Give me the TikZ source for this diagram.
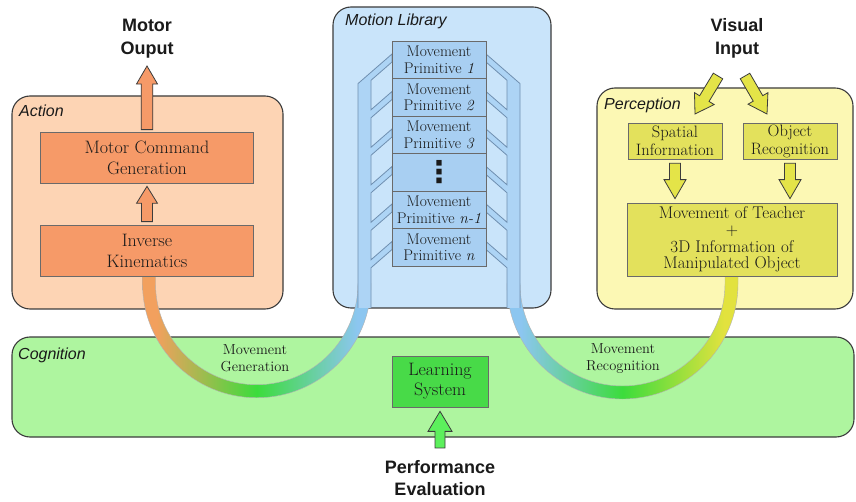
\documentclass[tikz,border=0pt]{standalone}
\usepackage{fontspec}
\newfontfamily\lsans{Liberation Sans}
\newfontfamily\symfont{DejaVu Sans}
\usetikzlibrary{calc}

% palette
\definecolor{frame}{HTML}{3C3C3C}
\definecolor{boxline}{HTML}{6A6A6A}
\definecolor{actbg}{HTML}{FDD4B4}
\definecolor{actfill}{HTML}{F69A68}
\definecolor{mlbg}{HTML}{C9E4FA}
\definecolor{primfill}{HTML}{A8CFF2}
\definecolor{bandfill}{HTML}{ADD4F5}
\definecolor{bandline}{HTML}{6F8FB0}
\definecolor{perbg}{HTML}{FCF8B4}
\definecolor{perfill}{HTML}{E3E15C}
\definecolor{perarrow}{HTML}{E4E448}
\definecolor{cogbg}{HTML}{AEF59F}
\definecolor{lsfill}{HTML}{48DA48}
\definecolor{cogarrow}{HTML}{5CF05C}
\definecolor{tubeorange}{HTML}{F2A05E}
\definecolor{tubegreen}{HTML}{3CDC3C}
\definecolor{tubeblue}{HTML}{8CC6F0}
\definecolor{tubeyellow}{HTML}{E2E23E}
\definecolor{labeltext}{HTML}{1A1A1A}

% colour runs along the two U-shaped channels
\pgfdeclarehorizontalshading{gentube}{100bp}{color(0bp)=(tubeorange); color(28bp)=(tubeorange); color(50bp)=(tubegreen); color(72bp)=(tubeblue); color(100bp)=(tubeblue)}
\pgfdeclarehorizontalshading{rectube}{100bp}{color(0bp)=(tubeblue); color(28bp)=(tubeblue); color(50bp)=(tubegreen); color(72bp)=(tubeyellow); color(100bp)=(tubeyellow)}

% wide outlined arrow: style, tail, tip, shaft half width, head half width, head length
\newcommand{\blockarrow}[6]{%
  \coordinate (ba-neck) at ($(#3)!#6!(#2)$);
  \draw[#1] ($(#2)!#4!90:(#3)$) -- ($(ba-neck)!#4!90:(#3)$) -- ($(ba-neck)!#5!90:(#3)$)
    -- (#3) -- ($(ba-neck)!#5!-90:(#3)$) -- ($(ba-neck)!#4!-90:(#3)$) -- ($(#2)!#4!-90:(#3)$) -- cycle;}

\begin{document}
\begin{tikzpicture}[x=1pt,y=-1pt,
  container/.style={draw=frame, line width=1.1pt, rounded corners=18pt},
  inbox/.style={draw=boxline, line width=0.7pt, inner sep=0pt, align=center, text=labeltext},
  actbox/.style={inbox, fill=actfill, minimum width=213pt, minimum height=51pt, font=\fontsize{18}{21}\selectfont},
  primbox/.style={inbox, fill=primfill, minimum width=94pt, minimum height=37.5pt, font=\fontsize{15.5}{16.5}\selectfont},
  perbox/.style={inbox, fill=perfill, minimum width=94pt, minimum height=36pt, font=\fontsize{16.5}{18}\selectfont},
  grouplabel/.style={anchor=west, inner sep=0pt, text=labeltext, font=\lsans\itshape\fontsize{16}{18}\selectfont},
  iolabel/.style={align=center, inner sep=0pt, text=labeltext, font=\lsans\bfseries\fontsize{18}{22.5}\selectfont},
  tubelabel/.style={align=center, inner sep=0pt, text=labeltext, font=\fontsize{14.5}{17}\selectfont},
  fatarrow/.style={draw=frame, line width=0.8pt, line join=miter},
  bandedge/.style={draw=bandline, line width=0.8pt, line join=miter},
]
\useasboundingbox[fill=white] (0,0) rectangle (856,502);

% ---- the four areas ----
\draw[container, fill=actbg] (12,96) rectangle (283,309);
\draw[container, fill=mlbg] (333,7) rectangle (551,308);
\draw[container, fill=perbg] (597,88) rectangle (853,309);
\draw[container, fill=cogbg] (12,337) rectangle (854,437);

% ---- channels between the areas ----
\shadedraw[shading=gentube, draw=black!30, line width=0.4pt]
  (142.5,276) -- (142.5,283.5) arc[start angle=180, end angle=0, radius=114.25]
  -- (358,283.5) arc[start angle=0, end angle=180, radius=101.25] -- (155.5,276) -- cycle;
\shadedraw[shading=rectube, draw=black!30, line width=0.4pt]
  (507,283.5) arc[start angle=180, end angle=0, radius=115.5] -- (738,276) -- (725,276)
  -- (725,283.5) arc[start angle=0, end angle=180, radius=102.5] -- cycle;

% ---- branching bands of the motion library ----
\fill[bandfill] (371,308) -- (371,267.8) -- (392,249.5)
  \foreach \i in {5,4,3,2,1}{ -- (392,{54+37.5*\i}) -- (371,{72.3+37.5*\i}) -- (371,{80.3+37.5*(\i-1)}) -- (392,{62+37.5*(\i-1)}) }
  -- (392,54) -- (358,83.6) -- (358,308) -- cycle;
\draw[bandedge] (371,308) -- (371,267.8) -- (392,249.5)
  \foreach \i in {5,4,3,2,1}{ -- (392,{54+37.5*\i}) -- (371,{72.3+37.5*\i}) -- (371,{80.3+37.5*(\i-1)}) -- (392,{62+37.5*(\i-1)}) }
  -- (392,54) -- (358,83.6) -- (358,308);
\fill[bandfill] (507,308) -- (507,267.8) -- (486,249.5)
  \foreach \i in {5,4,3,2,1}{ -- (486,{54+37.5*\i}) -- (507,{72.3+37.5*\i}) -- (507,{80.3+37.5*(\i-1)}) -- (486,{62+37.5*(\i-1)}) }
  -- (486,54) -- (520,83.6) -- (520,308) -- cycle;
\draw[bandedge] (507,308) -- (507,267.8) -- (486,249.5)
  \foreach \i in {5,4,3,2,1}{ -- (486,{54+37.5*\i}) -- (507,{72.3+37.5*\i}) -- (507,{80.3+37.5*(\i-1)}) -- (486,{62+37.5*(\i-1)}) }
  -- (486,54) -- (520,83.6) -- (520,308);

% ---- action ----
\node[actbox] (mcg) at (147,157.5) {Motor Command\\Generation};
\node[actbox] (ik) at (147,250.5) {Inverse\\Kinematics};

% ---- motion library ----
\node[primbox] (mp1) at (439,59.75) {Movement\\Primitive \textit{1}};
\node[primbox] (mp2) at (439,97.25) {Movement\\Primitive \textit{2}};
\node[primbox] (mp3) at (439,134.75) {Movement\\Primitive \textit{3}};
\node[primbox] (mpdots) at (439,172.25) {};
\node[inner sep=0pt, text=labeltext, font=\symfont\bfseries\fontsize{30}{30}\selectfont] (dotsglyph) at (mpdots.center) {⋮};
\node[primbox] (mpn1) at (439,209.75) {Movement\\Primitive \textit{n-1}};
\node[primbox] (mpn) at (439,247.25) {Movement\\Primitive \textit{n}};

% ---- perception ----
\node[perbox] (spatial) at (675,141) {Spatial\\Information};
\node[perbox] (object) at (790,141) {Object\\Recognition};
\node[perbox, minimum width=210pt, minimum height=73pt, font=\fontsize{17}{16.6}\selectfont]
  (teacher) at (732,239.5) {Movement of Teacher\\+\\3D Information of\\Manipulated Object};

% ---- cognition ----
\node[inbox, fill=lsfill, minimum width=96pt, minimum height=51pt, font=\fontsize{18}{20}\selectfont]
  (learn) at (440,381.5) {Learning\\System};

% ---- area names ----
\node[grouplabel] (actname) at (19,111) {Action};
\node[grouplabel] (mlname) at (345,21) {Motion Library};
\node[grouplabel] (pername) at (604,105) {Perception};
\node[grouplabel] (cogname) at (18,355) {Cognition};

% ---- inputs and outputs ----
\node[iolabel] (motorout) at (147,38.5) {Motor\\Ouput};
\node[iolabel] (visin) at (737,38.5) {Visual\\Input};
\node[iolabel] (perf) at (440,478) {Performance\\Evaluation};

\node[tubelabel] (genlbl) at (255,358.5) {Movement\\Generation};
\node[tubelabel] (reclbl) at (623,358.5) {Movement\\Recognition};

% ---- arrows ----
\coordinate (ik-up) at ($(ik.north)+(0,-3)$);
\coordinate (mcg-in) at ($(mcg.south)+(0,3)$);
\blockarrow{fatarrow, fill=actfill}{ik-up}{mcg-in}{5.5pt}{10.5pt}{17pt}
\coordinate (mcg-up) at ($(mcg.north)+(0,-2)$);
\coordinate (motor-tip) at ($(motorout.south)+(0,8)$);
\blockarrow{fatarrow, fill=actfill}{mcg-up}{motor-tip}{5.8pt}{10.5pt}{18pt}

\coordinate (vis-l) at (718,76);
\coordinate (vis-r) at (745,76);
\coordinate (sp-tip) at (695,114);
\coordinate (ob-tip) at (767,114);
\blockarrow{fatarrow, fill=perarrow}{vis-l}{sp-tip}{5.5pt}{11.5pt}{18pt}
\blockarrow{fatarrow, fill=perarrow}{vis-r}{ob-tip}{5.5pt}{11.5pt}{18pt}

\coordinate (sp-out) at ($(spatial.south)+(0,4)$);
\coordinate (sp-in) at ($(spatial.south |- teacher.north)+(0,-4)$);
\coordinate (ob-out) at ($(object.south)+(0,4)$);
\coordinate (ob-in) at ($(object.south |- teacher.north)+(0,-4)$);
\blockarrow{fatarrow, fill=perarrow}{sp-out}{sp-in}{5.5pt}{11pt}{19pt}
\blockarrow{fatarrow, fill=perarrow}{ob-out}{ob-in}{5.5pt}{11pt}{19pt}

\coordinate (perf-up) at ($(perf.north)+(0,-12)$);
\coordinate (learn-in) at ($(learn.south)+(0,4)$);
\blockarrow{fatarrow, fill=cogarrow}{perf-up}{learn-in}{5pt}{12pt}{20pt}
\end{tikzpicture}
\end{document}
